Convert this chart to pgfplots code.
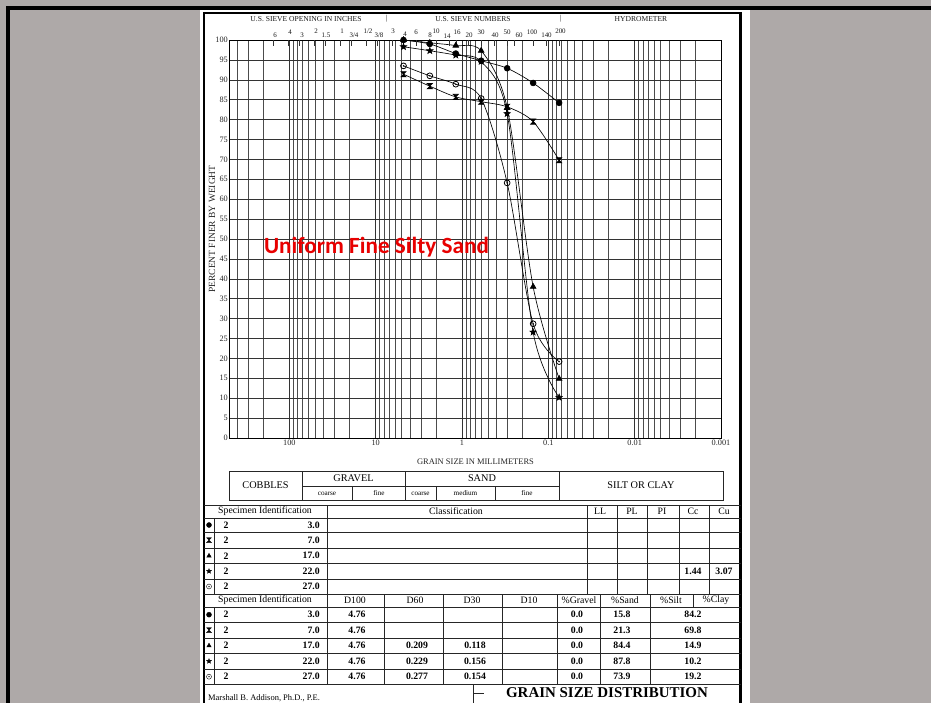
\documentclass[border=0pt]{standalone}
\usepackage{pgfplots}
\pgfplotsset{compat=1.18}
\usepackage{fontspec}
\setmainfont{Liberation Serif}
\newfontfamily\carlito{Carlito}
\definecolor{bggray}{RGB}{174,169,168}
\definecolor{titlered}{RGB}{232,0,0}
\newcommand\fs[1]{\fontsize{#1}{#1}\selectfont}

\pgfdeclareplotmark{hourglass}{%
 \pgfpathmoveto{\pgfqpoint{-\pgfplotmarksize}{\pgfplotmarksize}}%
 \pgfpathlineto{\pgfqpoint{\pgfplotmarksize}{\pgfplotmarksize}}%
 \pgfpathlineto{\pgfqpoint{-\pgfplotmarksize}{-\pgfplotmarksize}}%
 \pgfpathlineto{\pgfqpoint{\pgfplotmarksize}{-\pgfplotmarksize}}%
 \pgfpathclose\pgfusepathqfillstroke}
\pgfdeclareplotmark{odot}{%
 \pgfpathcircle{\pgfpointorigin}{\pgfplotmarksize}\pgfusepathqstroke
 \pgfpathcircle{\pgfpointorigin}{0.3\pgfplotmarksize}\pgfusepathqfill}
\pgfdeclareplotmark{fstar}{%
 \pgfpathmoveto{\pgfpointpolar{90}{\pgfplotmarksize}}%
 \pgfpathlineto{\pgfpointpolar{126}{0.42\pgfplotmarksize}}%
 \pgfpathlineto{\pgfpointpolar{162}{\pgfplotmarksize}}%
 \pgfpathlineto{\pgfpointpolar{198}{0.42\pgfplotmarksize}}%
 \pgfpathlineto{\pgfpointpolar{234}{\pgfplotmarksize}}%
 \pgfpathlineto{\pgfpointpolar{270}{0.42\pgfplotmarksize}}%
 \pgfpathlineto{\pgfpointpolar{306}{\pgfplotmarksize}}%
 \pgfpathlineto{\pgfpointpolar{342}{0.42\pgfplotmarksize}}%
 \pgfpathlineto{\pgfpointpolar{18}{\pgfplotmarksize}}%
 \pgfpathlineto{\pgfpointpolar{54}{0.42\pgfplotmarksize}}%
 \pgfpathclose\pgfusepathqfillstroke}

\begin{document}
\begin{tikzpicture}
% ---------- background ----------
\begin{scope}[x=1bp,y=-1bp]
 \fill[bggray] (0,0) rectangle (931,703);
 \fill[white] (200,9) rectangle (750,703);
 \draw[line width=3bp] (6,8)--(931,8);
 \draw[line width=3bp] (8,6.5)--(8,703);
 \draw[line width=2.2bp] (204,13)--(740.5,13)--(740.5,710);
 \draw[line width=2.2bp] (204,12)--(204,710);
\end{scope}

% ---------- chart ----------
\begin{axis}[
 at={(475bp,-239bp)}, anchor=center,
 scale only axis, width=492bp, height=398bp,
 xmode=log, x dir=reverse,
 xmin=0.001, xmax=500, ymin=0, ymax=100,
 xtick={100,10,1,0.1,0.01,0.001},
 xticklabels={100,10,1,0.1,0.01,0.001},
 minor xtick={200,300,400,20,30,40,50,60,70,80,90,2,3,4,5,6,7,8,9,
   0.2,0.3,0.4,0.5,0.6,0.7,0.8,0.9,0.02,0.03,0.04,0.05,0.06,0.07,0.08,0.09,
   0.002,0.003,0.004,0.005,0.006,0.007,0.008,0.009},
 ytick={0,5,...,100},
 yticklabels={0,5,10,15,20,25,30,35,40,45,50,55,60,65,70,75,80,85,90,95,100},
 minor ytick={},
 grid=both,
 major grid style={black!80, line width=0.6bp},
 minor grid style={black!70, line width=0.55bp},
 major tick length=0pt, minor tick length=0pt,
 axis line style={black, line width=1bp},
 ticklabel style={font=\fs{8.3}, text=black!85},
 xticklabel style={inner sep=1.5bp},
 yticklabel style={inner sep=1bp},
 every axis plot/.append style={black, line width=0.65bp, smooth, tension=0.5},
]
\addplot[mark=*, mark size=2.9bp] coordinates {(4.76,100)(2.36,99.0)(1.18,96.6)(0.6,94.8)(0.3,92.9)(0.15,89.2)(0.075,84.2)};
\addplot[mark=hourglass, mark size=2.6bp] coordinates {(4.76,91.4)(2.36,88.4)(1.18,85.7)(0.6,84.5)(0.3,83.2)(0.15,79.5)(0.075,69.8)};
\addplot[mark=triangle*, mark size=3.3bp] coordinates {(4.76,100)(2.36,99.3)(1.18,98.6)(0.6,97.3)(0.3,83.0)(0.15,38.0)(0.075,14.9)};
\addplot[mark=fstar, mark size=3.3bp] coordinates {(4.76,98.3)(2.36,97.3)(1.18,96.2)(0.6,94.6)(0.3,81.5)(0.15,26.6)(0.075,10.2)};
\addplot[mark=odot, mark size=2.9bp, mark options={line width=0.8bp}] coordinates {(4.76,93.5)(2.36,91.0)(1.18,88.9)(0.6,85.3)(0.3,64.1)(0.15,28.7)(0.075,19.2)};
\pgfplotsinvokeforeach{152.4,101.6,76.2,50.8,38.1,25.4,19.05,12.7,9.525,6.35,4.75,3.35,2.36,2.0,1.4,1.18,0.85,0.6,0.425,0.3,0.25,0.15,0.106,0.075}{
 \draw[black!80, line width=0.5bp] (axis cs:#1,100) -- (axis cs:#1,98.4);}
\end{axis}

% ---------- annotations and tables ----------
\begin{scope}[x=1bp,y=-1bp]
 \clip (0,0) rectangle (931,703);
 % top headings
 \begin{scope}[every node/.style={font=\fs{7.6}, inner sep=0pt, text=black!90}]
  \node at (306,19) {U.S. SIEVE OPENING IN INCHES};
  \node at (387,19) {|};
  \node at (473,19) {U.S. SIEVE NUMBERS};
  \node at (561,19) {|};
  \node at (641,19) {HYDROMETER};
 \end{scope}
 \begin{scope}[every node/.style={font=\fs{7}, inner sep=0pt, text=black!90}]
  \foreach \xx/\yy/\tt in {275/35.7/6, 290/32/4, 302/35.7/3, 316/31.4/2, 326/35.7/1.5,
     342/31.4/1, 354/35.7/3\slash4, 368/31.4/1\slash2, 379/35.7/3\slash8, 393/31.4/3,
     405/34/4, 416/32/6, 430/35.7/8, 436/31.4/10, 447/35.7/14, 457/32/16, 469/35.7/20,
     481/32/30, 495/35.7/40, 507/32/50, 519/35.7/60, 532/32/100, 546.5/35.7/140, 560.5/31.4/200}
   {\node at (\xx,\yy) {\tt};}
 \end{scope}
 % axis titles
 \node[font=\fs{9.5}, rotate=90, text=black!85] at (212,229) {PERCENT FINER BY WEIGHT};
 \node[font=\fs{8.5}, text=black!85] at (475.5,462) {GRAIN SIZE IN MILLIMETERS};
 % red title
 \node[font=\carlito\bfseries\fs{23.3}, text=titlered] at (376.5,247) {Uniform Fine Silty Sand};

 % band table
 \begin{scope}[line width=0.7bp, black!85]
  \draw (229,471) rectangle (723,500);
  \draw (302,471)--(302,500) (405,471)--(405,500) (559,471)--(559,500);
  \draw (302,486)--(559,486);
  \draw (352.5,486)--(352.5,500) (436,486)--(436,500) (495,486)--(495,500);
 \end{scope}
 \begin{scope}[every node/.style={font=\fs{10.3}, inner sep=0pt}]
  \node at (265.5,485.5) {COBBLES};
  \node at (353.5,478.5) {GRAVEL};
  \node at (482,478.5) {SAND};
  \node at (641,485.5) {SILT OR CLAY};
 \end{scope}
 \begin{scope}[every node/.style={font=\fs{7.2}, inner sep=0pt}]
  \node at (327,493.5) {coarse};
  \node at (379,493.5) {fine};
  \node at (420.5,493.5) {coarse};
  \node at (465.5,493.5) {medium};
  \node at (527,493.5) {fine};
 \end{scope}

 % tables grid
 \begin{scope}[line width=0.7bp, black!85]
  \foreach \yy in {505,518,532.5,548,563.5,579,594,607,622.5,638,653.5,669,684.5}
    {\draw (204,\yy)--(741,\yy);}
  \foreach \xx in {327,587.5,617,647,679,709} {\draw (\xx,505)--(\xx,594);}
  \draw (214,518)--(214,594);
  \foreach \xx in {327,384,443,502,557,600,650} {\draw (\xx,594)--(\xx,684.5);}
  \draw (693,594)--(693,607);
  \draw (214,607)--(214,684.5);
  \draw (473,684.5)--(473,703);
  \draw (473,693)--(484,693);
 \end{scope}
 % table headers
 \begin{scope}[every node/.style={font=\fs{9.8}, inner sep=0pt}]
  \node at (265,511.5) {Specimen Identification};
  \node at (456,511.5) {Classification};
  \node at (600,511.5) {LL};
  \node at (632,511.5) {PL};
  \node at (662,511.5) {PI};
  \node at (693,511.5) {Cc};
  \node at (724,511.5) {Cu};
  \node at (265,600.5) {Specimen Identification};
  \node at (355,600.5) {D100};
  \node at (415,600.5) {D60};
  \node at (472,600.5) {D30};
  \node at (529,600.5) {D10};
  \node at (579,600.5) {\%Gravel};
  \node at (625,600.5) {\%Sand};
  \node at (671,600.5) {\%Silt};
  \node at (716,600.5) {\%Clay};
 \end{scope}
 \begin{scope}[mark size=2.5bp, black]
  \foreach \m/\yy in {*/525, hourglass/540.2, triangle*/555.8, fstar/571.2, odot/586.5,
                      */614.7, hourglass/630.2, triangle*/645.7, fstar/661.2, odot/676.7}
   {\begin{scope}[shift={(209,\yy)}]\pgfuseplotmark{\m}\end{scope}}
 \end{scope}
 \begin{scope}[every node/.style={font=\bfseries\fs{9.8}, inner sep=0pt}]
  \foreach \yy/\v in {525/3.0, 540.2/7.0, 555.8/17.0, 571.2/22.0, 586.5/27.0,
                      614.7/3.0, 630.2/7.0, 645.7/17.0, 661.2/22.0, 676.7/27.0}
   {\node at (226,\yy) {2}; \node[anchor=east] at (320,\yy) {\v};}
  \node at (693,571.2) {1.44};
  \node at (724,571.2) {3.07};
  \foreach \yy/\a/\b/\c/\d/\e in {614.7/4.76///15.8/84.2, 630.2/4.76///21.3/69.8,
       645.7/4.76/0.209/0.118/84.4/14.9, 661.2/4.76/0.229/0.156/87.8/10.2,
       676.7/4.76/0.277/0.154/73.9/19.2}
   {\node at (357,\yy) {\a}; \node at (417,\yy) {\b}; \node at (475,\yy) {\c};
    \node at (577,\yy) {0.0}; \node at (622,\yy) {\d}; \node at (693,\yy) {\e};}
 \end{scope}
 \node[font=\bfseries\fs{15}, inner sep=0pt, anchor=base] at (607,697) {GRAIN SIZE DISTRIBUTION};
 \node[font=\fs{8.5}, inner sep=0pt, anchor=base west] at (208,700.5) {Marshall B. Addison, Ph.D., P.E.};
\end{scope}
\pgfresetboundingbox
\path[use as bounding box] (0,0) rectangle (931bp,-703bp);
\end{tikzpicture}
\end{document}
